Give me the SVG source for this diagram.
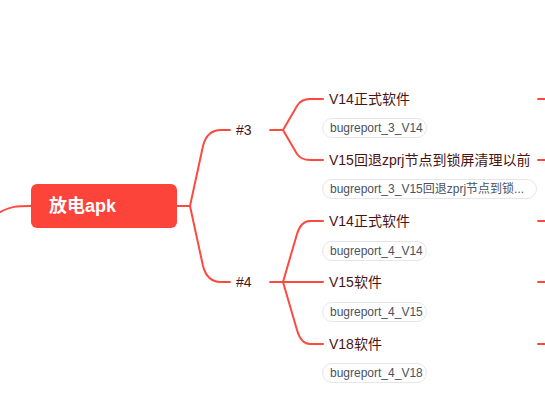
<svg xmlns="http://www.w3.org/2000/svg" width="545" height="406" viewBox="0 0 545 406">
<style>
.ln{fill:none;stroke:#fd4a40;stroke-width:2;stroke-linecap:round}
.t{font-family:"Liberation Sans","Noto Sans CJK SC",sans-serif;font-size:14px;fill:#4a1414}
.lb{fill:#fff;stroke:#e6e6e6;stroke-width:1}
.lt{font-family:"Liberation Sans","Noto Sans CJK SC",sans-serif;font-size:12px;fill:#4a5260}
</style>
<rect width="545" height="406" fill="#fff"/>
<g id="connectors">
<path class="ln" d="M-2,213 C12,206 16,206 31,206"/>
<path class="ln" d="M177,206 L190,206"/>
<path class="ln" d="M190,206 L203,146 Q207,130 221,130 L230,130"/>
<path class="ln" d="M190,206 L203,266 Q207,282 221,282 L230,282"/>
<path class="ln" d="M270,130 L283,130"/>
<path class="ln" d="M283,130 L297,106 Q301,99 310,99 L323,99"/>
<path class="ln" d="M283,130 L297,154 Q301,160 310,160 L323,160"/>
<path class="ln" d="M270,282 L283,282"/>
<path class="ln" d="M283,282 L297,234 Q301,221 310,221 L323,221"/>
<path class="ln" d="M283,282 L323,282"/>
<path class="ln" d="M283,282 L297,330 Q301,344 310,344 L323,344"/>
<path class="ln" d="M538,99 L547,99"/>
<path class="ln" d="M538,160 L547,160"/>
<path class="ln" d="M538,221 L547,221"/>
<path class="ln" d="M538,282 L547,282"/>
<path class="ln" d="M538,344 L547,344"/>
</g>
<g id="root">
<rect x="31" y="184" width="146" height="44" rx="6" fill="#fc443b"/>
<text x="49" y="212" font-family="'Liberation Sans','Noto Sans CJK SC',sans-serif" font-size="18" font-weight="bold" fill="#fff">放电apk</text>
</g>
<g id="n3"><text class="t" x="236" y="135">#3</text></g>
<g id="n4"><text class="t" x="236" y="287">#4</text></g>
<g id="n3a">
<text class="t" x="329" y="104">V14正式软件</text>
<rect class="lb" x="322.5" y="118.5" width="104" height="19" rx="9.5"/>
<text class="lt" x="330" y="132">bugreport_3_V14</text>
</g>
<g id="n3b">
<text class="t" x="329" y="165">V15回退zprj节点到锁屏清理以前</text>
<rect class="lb" x="322.5" y="179.5" width="214" height="19" rx="9.5"/>
<text class="lt" x="330" y="193">bugreport_3_V15回退zprj节点到锁...</text>
</g>
<g id="n4a">
<text class="t" x="329" y="226">V14正式软件</text>
<rect class="lb" x="322.5" y="241.5" width="104" height="19" rx="9.5"/>
<text class="lt" x="330" y="255">bugreport_4_V14</text>
</g>
<g id="n4b">
<text class="t" x="329" y="287">V15软件</text>
<rect class="lb" x="322.5" y="302.5" width="104" height="19" rx="9.5"/>
<text class="lt" x="330" y="316">bugreport_4_V15</text>
</g>
<g id="n4c">
<text class="t" x="329" y="349">V18软件</text>
<rect class="lb" x="322.5" y="363.5" width="104" height="19" rx="9.5"/>
<text class="lt" x="330" y="377">bugreport_4_V18</text>
</g>
</svg>
